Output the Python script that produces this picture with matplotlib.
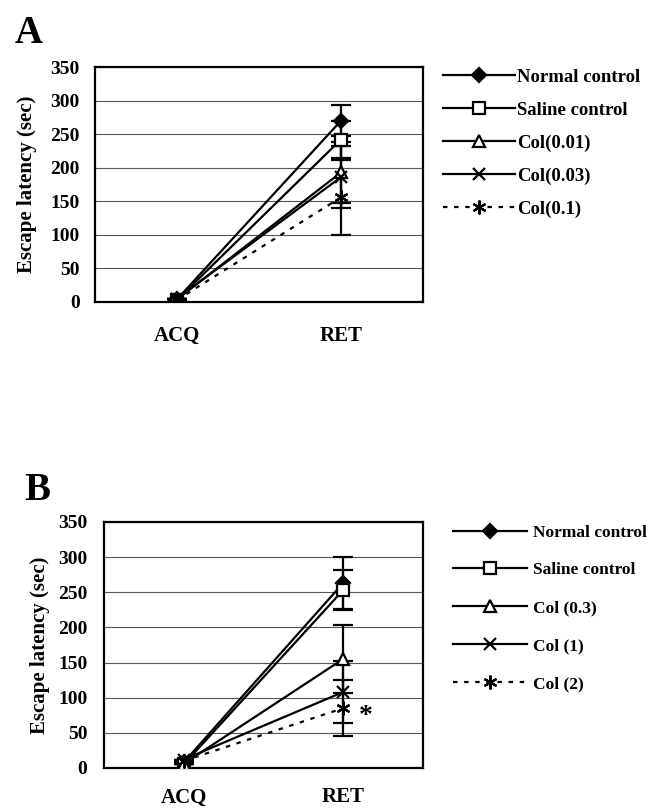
import numpy as np
import matplotlib
matplotlib.use("Agg")
import matplotlib.pyplot as plt
from matplotlib.lines import Line2D

plt.rcParams['font.family'] = ['Liberation Serif', 'DejaVu Serif']
plt.rcParams['font.weight'] = 'bold'

# categories
phases = ["ACQ", "RET"]

# panel A data
labels_a = ["Normal control", "Saline control", "Col(0.01)", "Col(0.03)", "Col(0.1)"]
means_a = [[4, 270], [3, 242], [4, 193], [5, 186], [3, 156]]
errs_a = [[0, 23], [0, 28], [0, 46], [0, 46], [0, 56]]

# panel B data
labels_b = ["Normal control", "Saline control", "Col (0.3)", "Col (1)", "Col (2)"]
means_b = [[8, 263], [5, 253], [6, 155], [12, 108], [10, 85]]
errs_b = [[0, 37], [0, 28], [0, 48], [0, 44], [0, 40]]

# series styles (shared by both panels)
markers = ['D', 's', '^', 'x', (6, 2, 0)]
faces = ['black', 'white', 'white', 'black', 'black']
sizes = [7, 9, 8, 9, 10]
styles = ['-', '-', '-', '-', (0, (2, 3))]


def draw_panel(ax, labels, means, errs, xpad, ylpad):
    x = np.arange(len(phases))
    handles = []
    for i in range(len(labels)):
        ax.errorbar(x, means[i], yerr=errs[i], color='black', lw=1.6,
                    ls=styles[i], marker=markers[i], mfc=faces[i], mec='black',
                    mew=1.6, ms=sizes[i], capsize=7, capthick=1.6,
                    elinewidth=1.6, zorder=3)
        handles.append(Line2D([], [], color='black', lw=1.6, ls=styles[i],
                              marker=markers[i], mfc=faces[i], mec='black',
                              mew=1.6, ms=sizes[i]))
    ax.set_xlim(-0.5, 1.5)
    ax.set_ylim(0, 350)
    ax.set_yticks(np.arange(0, 351, 50))
    ax.set_xticks(x)
    ax.set_xticklabels(phases)
    ax.yaxis.grid(True, color='#555555', lw=0.8)
    ax.set_axisbelow(True)
    ax.tick_params(axis='y', length=0, labelsize=14, pad=ylpad)
    ax.tick_params(axis='x', length=0, labelsize=15, pad=xpad)
    for s in ax.spines.values():
        s.set_linewidth(1.6)
    return handles


fig = plt.figure(figsize=(6.52, 8.10), dpi=100)

# panel A
ax_a = fig.add_axes([0.1457, 0.6272, 0.503, 0.290])
h_a = draw_panel(ax_a, labels_a, means_a, errs_a, 17, 11)
ax_a.set_ylabel("Escape latency (sec)", fontsize=15, fontweight='bold')
ax_a.yaxis.set_label_coords(-0.177, 0.5)
fig.legend(h_a, labels_a, loc='upper left', bbox_to_anchor=(0.6794, 0.9154),
           frameon=False, fontsize=13.5, handlelength=3.85, handletextpad=0.1,
           labelspacing=0.84, borderaxespad=0, borderpad=0)
fig.text(0.023, 0.947, "A", fontsize=28, fontweight='bold', va='baseline')

# panel B
ax_b = fig.add_axes([0.1595, 0.0519, 0.489, 0.3037])
h_b = draw_panel(ax_b, labels_b, means_b, errs_b, 14, 12)
ax_b.set_ylabel("Escape latency (sec)", fontsize=15, fontweight='bold')
ax_b.yaxis.set_label_coords(-0.169, 0.5)
fig.legend(h_b, labels_b, loc='upper left', bbox_to_anchor=(0.6948, 0.3525),
           frameon=False, fontsize=12.5, handlelength=4.26, handletextpad=0.35,
           labelspacing=1.25, borderaxespad=0, borderpad=0)
fig.text(0.038, 0.3827, "B", fontsize=28, fontweight='bold', va='baseline')

# significance mark
ax_b.annotate("*", xy=(1, means_b[4][1]), xytext=(11, -6), textcoords='offset points',
              fontsize=20, fontweight='bold', ha='left', va='center')

fig.savefig("out.png", dpi=100)
